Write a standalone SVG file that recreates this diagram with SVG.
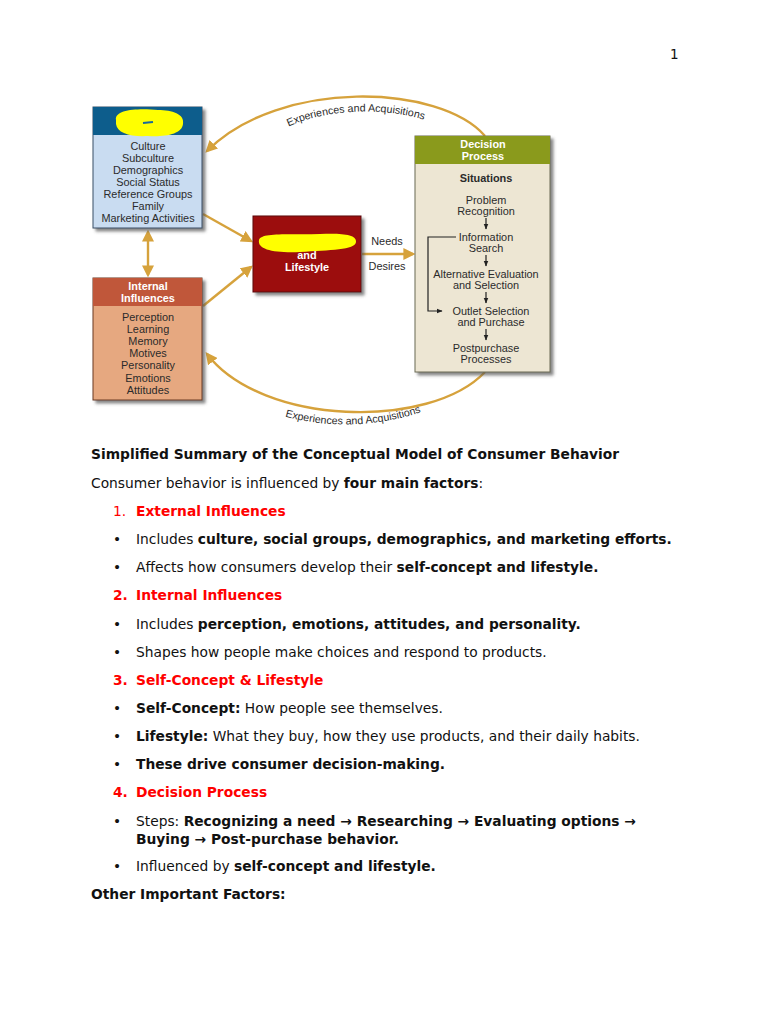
<svg xmlns="http://www.w3.org/2000/svg" width="768" height="1024" viewBox="0 0 768 1024">
<style>
.d{font-family:"Liberation Sans",Arial,sans-serif;font-size:10.9px;fill:#2b2b2b;text-anchor:middle}
.hw{font-family:"Liberation Sans",Arial,sans-serif;font-size:10.9px;fill:#fff;font-weight:bold;text-anchor:middle}
.t{font-family:"DejaVu Sans",Verdana,sans-serif;font-size:13.8px;fill:#111}
.b{font-weight:bold}
.r{fill:#ff0000}
.gold{fill:none;stroke:#d6a23c;stroke-width:2.4}
.blk{fill:none;stroke:#222;stroke-width:1.2}
</style>
<defs>
<filter id="sh" x="-10%" y="-10%" width="130%" height="130%">
<feDropShadow dx="3" dy="3" stdDeviation="1.6" flood-color="#555" flood-opacity="0.7"/>
</filter>
<marker id="ga" viewBox="0 0 10 10" refX="8" refY="5" markerWidth="5" markerHeight="5" orient="auto-start-reverse" markerUnits="strokeWidth">
<path d="M0,0 L10,5 L0,10 z" fill="#d6a23c"/>
</marker>
<marker id="ba" viewBox="0 0 10 10" refX="9" refY="5" markerWidth="5" markerHeight="5" orient="auto" markerUnits="strokeWidth">
<path d="M0,1 L10,5 L0,9 z" fill="#222"/>
</marker>
<path id="tp1" d="M266 140 C308 106, 398 102, 448 130"/>
<path id="tp2" d="M274 413 C320 429, 380 429, 432 408"/>
</defs>
<rect width="768" height="1024" fill="#fff"/>
<text x="670" y="59" class="t" style="font-size:13.5px">1</text>

<g id="connectors">
<path class="gold" d="M485 136 C440 84, 280 78, 207 151" marker-end="url(#ga)"/>
<path class="gold" d="M485 372 C430 430, 262 426, 207 354" marker-end="url(#ga)"/>
<path class="gold" d="M148 232 L148 275" marker-start="url(#ga)" marker-end="url(#ga)"/>
<path class="gold" d="M203 214 L251 241" marker-end="url(#ga)"/>
<path class="gold" d="M203 306 L251 267" marker-end="url(#ga)"/>
<path class="gold" d="M362 254 L413 254" marker-end="url(#ga)"/>
<text class="d" style="font-size:10.6px"><textPath href="#tp1" startOffset="50%">Experiences and Acquisitions</textPath></text>
<text class="d" style="font-size:10.6px"><textPath href="#tp2" startOffset="50%">Experiences and Acquisitions</textPath></text>
<text x="387" y="245" class="d">Needs</text>
<text x="387" y="270" class="d">Desires</text>
</g>

<g id="external">
<rect x="93" y="107" width="109" height="121" fill="#c9dcf1" stroke="#3b4f66" stroke-width="1" filter="url(#sh)"/>
<rect x="93" y="107" width="109" height="28" fill="#0d5d8c"/>
<path d="M116 120 C114 109,140 108,158 110 C172 110,185 114,183 124 C182 134,166 137,148 136 C130 137,117 133,116 124 Z" fill="#ffff00"/>
<path d="M143 123 L153 122" stroke="#1a6a9a" stroke-width="2"/>
<text x="148" y="150" class="d">Culture</text>
<text x="148" y="162" class="d">Subculture</text>
<text x="148" y="174" class="d">Demographics</text>
<text x="148" y="186" class="d">Social Status</text>
<text x="148" y="198" class="d">Reference Groups</text>
<text x="148" y="210" class="d">Family</text>
<text x="148" y="222" class="d">Marketing Activities</text>
</g>

<g id="internal">
<rect x="93" y="278" width="109" height="122" fill="#e6a880" stroke="#6a3a22" stroke-width="1" filter="url(#sh)"/>
<rect x="93" y="278" width="109" height="28" fill="#c0573a"/>
<text x="148" y="290" class="hw">Internal</text>
<text x="148" y="302" class="hw">Influences</text>
<text x="148" y="321" class="d">Perception</text>
<text x="148" y="333" class="d">Learning</text>
<text x="148" y="345" class="d">Memory</text>
<text x="148" y="357" class="d">Motives</text>
<text x="148" y="369" class="d">Personality</text>
<text x="148" y="382" class="d">Emotions</text>
<text x="148" y="394" class="d">Attitudes</text>
</g>

<g id="selfconcept">
<rect x="253" y="216" width="108" height="76" fill="#9c0a10" stroke="#5a0508" stroke-width="1" filter="url(#sh)"/>
<text x="307" y="259" class="hw">and</text>
<path d="M259 240 C261 232,290 235,320 234 C340 233,357 234,356 242 C355 250,330 250,300 252 C275 253,257 250,259 240 Z" fill="#ffff00"/>
<text x="307" y="271" class="hw">Lifestyle</text>
</g>

<g id="decision">
<rect x="415" y="136" width="135" height="236" fill="#ede6d3" stroke="#6b6b55" stroke-width="1" filter="url(#sh)"/>
<rect x="415" y="136" width="135" height="28" fill="#8a9a1c"/>
<text x="483" y="148" class="hw">Decision</text>
<text x="483" y="160" class="hw">Process</text>
<text x="486" y="182" class="d b" style="font-weight:bold">Situations</text>
<text x="486" y="204" class="d">Problem</text>
<text x="486" y="215" class="d">Recognition</text>
<text x="486" y="241" class="d">Information</text>
<text x="486" y="252" class="d">Search</text>
<text x="486" y="278" class="d">Alternative Evaluation</text>
<text x="486" y="289" class="d">and Selection</text>
<text x="491" y="315" class="d">Outlet Selection</text>
<text x="491" y="326" class="d">and Purchase</text>
<text x="486" y="352" class="d">Postpurchase</text>
<text x="486" y="363" class="d">Processes</text>
<path class="blk" d="M486 218 L486 229" marker-end="url(#ba)"/>
<path class="blk" d="M486 255 L486 266" marker-end="url(#ba)"/>
<path class="blk" d="M486 292 L486 303" marker-end="url(#ba)"/>
<path class="blk" d="M486 329 L486 340" marker-end="url(#ba)"/>
<path class="blk" d="M456 237 L428 237 L428 311 L442 311" marker-end="url(#ba)"/>
</g>

<g id="summary">
<text x="91" y="459" class="t b">Simplified Summary of the Conceptual Model of Consumer Behavior</text>
<text x="91" y="488" class="t">Consumer behavior is influenced by <tspan class="b">four main factors</tspan>:</text>
<text x="113" y="516" class="t r">1.</text>
<text x="136" y="516" class="t r b">External Influences</text>
<text x="113" y="544" class="t">•</text>
<text x="136" y="544" class="t">Includes <tspan class="b">culture, social groups, demographics, and marketing efforts.</tspan></text>
<text x="113" y="572" class="t">•</text>
<text x="136" y="572" class="t">Affects how consumers develop their <tspan class="b">self-concept and lifestyle.</tspan></text>
<text x="113" y="600" class="t r b">2.</text>
<text x="136" y="600" class="t r b">Internal Influences</text>
<text x="113" y="629" class="t">•</text>
<text x="136" y="629" class="t">Includes <tspan class="b">perception, emotions, attitudes, and personality.</tspan></text>
<text x="113" y="657" class="t">•</text>
<text x="136" y="657" class="t">Shapes how people make choices and respond to products.</text>
<text x="113" y="685" class="t r b">3.</text>
<text x="136" y="685" class="t r b">Self-Concept &amp; Lifestyle</text>
<text x="113" y="713" class="t">•</text>
<text x="136" y="713" class="t"><tspan class="b">Self-Concept:</tspan> How people see themselves.</text>
<text x="113" y="741" class="t">•</text>
<text x="136" y="741" class="t"><tspan class="b">Lifestyle:</tspan> What they buy, how they use products, and their daily habits.</text>
<text x="113" y="769" class="t">•</text>
<text x="136" y="769" class="t b">These drive consumer decision-making.</text>
<text x="113" y="797" class="t r b">4.</text>
<text x="136" y="797" class="t r b">Decision Process</text>
<text x="113" y="826" class="t">•</text>
<text x="136" y="826" class="t">Steps: <tspan class="b">Recognizing a need → Researching → Evaluating options →</tspan></text>
<text x="136" y="844" class="t b">Buying → Post-purchase behavior.</text>
<text x="113" y="871" class="t">•</text>
<text x="136" y="871" class="t">Influenced by <tspan class="b">self-concept and lifestyle.</tspan></text>
<text x="91" y="899" class="t b">Other Important Factors:</text>
</g>
</svg>
